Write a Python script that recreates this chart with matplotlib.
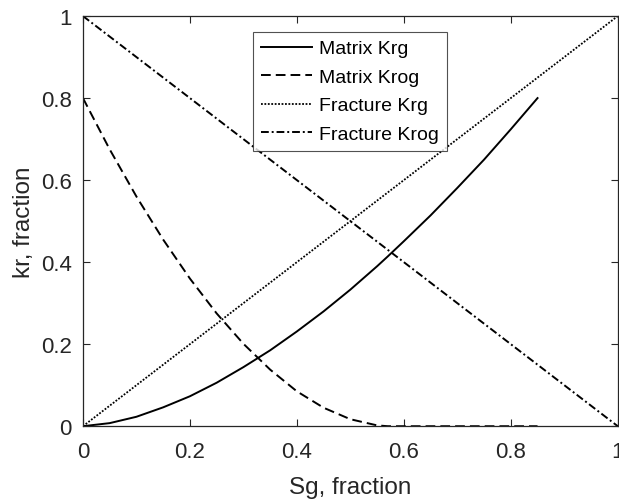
import matplotlib
matplotlib.use("Agg")
import matplotlib.pyplot as plt
import numpy as np

plt.rcParams['font.family'] = ['Liberation Sans', 'DejaVu Sans']

# Gas saturation grid for the matrix curves
sg_matrix = [0.0, 0.05, 0.10, 0.15, 0.20, 0.25, 0.30, 0.35, 0.40, 0.45,
             0.50, 0.55, 0.57, 0.60, 0.65, 0.70, 0.75, 0.80, 0.85]
# Matrix gas relative permeability
krg_matrix = [0.0, 0.0075, 0.023, 0.046, 0.073, 0.106, 0.144, 0.185, 0.231, 0.280,
              0.333, 0.390, 0.414, 0.451, 0.514, 0.581, 0.650, 0.724, 0.800]
# Matrix oil relative permeability (gas-oil system)
krog_matrix = [0.80, 0.675, 0.560, 0.455, 0.360, 0.275, 0.201, 0.138, 0.085, 0.045,
               0.017, 0.002, 0.0, 0.0, 0.0, 0.0, 0.0, 0.0, 0.0]

# Fracture curves are straight lines
sg_fracture = [0.0, 1.0]
krg_fracture = [0.0, 1.0]
krog_fracture = [1.0, 0.0]

labels = ["Matrix Krg", "Matrix Krog", "Fracture Krg", "Fracture Krog"]

fig = plt.figure(figsize=(6.19, 5.02), dpi=100)
ax = fig.add_axes([0.134, 0.149, 0.864, 0.817])

lw = 1.4
ax.plot(sg_matrix, krg_matrix, color='black', lw=lw, linestyle='-', label=labels[0])
ax.plot(sg_matrix, krog_matrix, color='black', lw=lw, linestyle=(0, (5, 2.6)), label=labels[1])
ax.plot(sg_fracture, krg_fracture, color='black', lw=1.3, linestyle=(0, (1, 0.9)), label=labels[2])
ax.plot(sg_fracture, krog_fracture, color='black', lw=lw, linestyle=(0, (4, 1.5, 1, 1.5)), label=labels[3])

ax.set_xlim(0, 1)
ax.set_ylim(0, 1)
ticks = [0, 0.2, 0.4, 0.6, 0.8, 1]
tick_labels = ["0", "0.2", "0.4", "0.6", "0.8", "1"]
ax.set_xticks(ticks)
ax.set_xticklabels(tick_labels)
ax.set_yticks(ticks)
ax.set_yticklabels(tick_labels)

axis_color = '#262626'
ax.tick_params(direction='in', top=True, right=True, length=5, width=0.8,
               colors=axis_color, labelsize=16, labelcolor=axis_color)
ax.tick_params(axis='x', pad=10.5)
ax.tick_params(axis='y', pad=8)
for sp in ax.spines.values():
    sp.set_color(axis_color)
    sp.set_linewidth(0.9)

ax.set_xlabel("Sg, fraction", fontsize=17.5, color=axis_color, labelpad=10)
ax.set_ylabel("kr, fraction", fontsize=17.5, color=axis_color, labelpad=4.5)

leg = ax.legend(loc='upper left', bbox_to_anchor=(0.318, 0.962), fontsize=14,
                frameon=True, fancybox=False, edgecolor=axis_color,
                handlelength=2.6, borderpad=0.42, labelspacing=0.56,
                handletextpad=0.35, borderaxespad=0)
leg.get_frame().set_linewidth(0.8)

fig.savefig("out.png", dpi=100)
